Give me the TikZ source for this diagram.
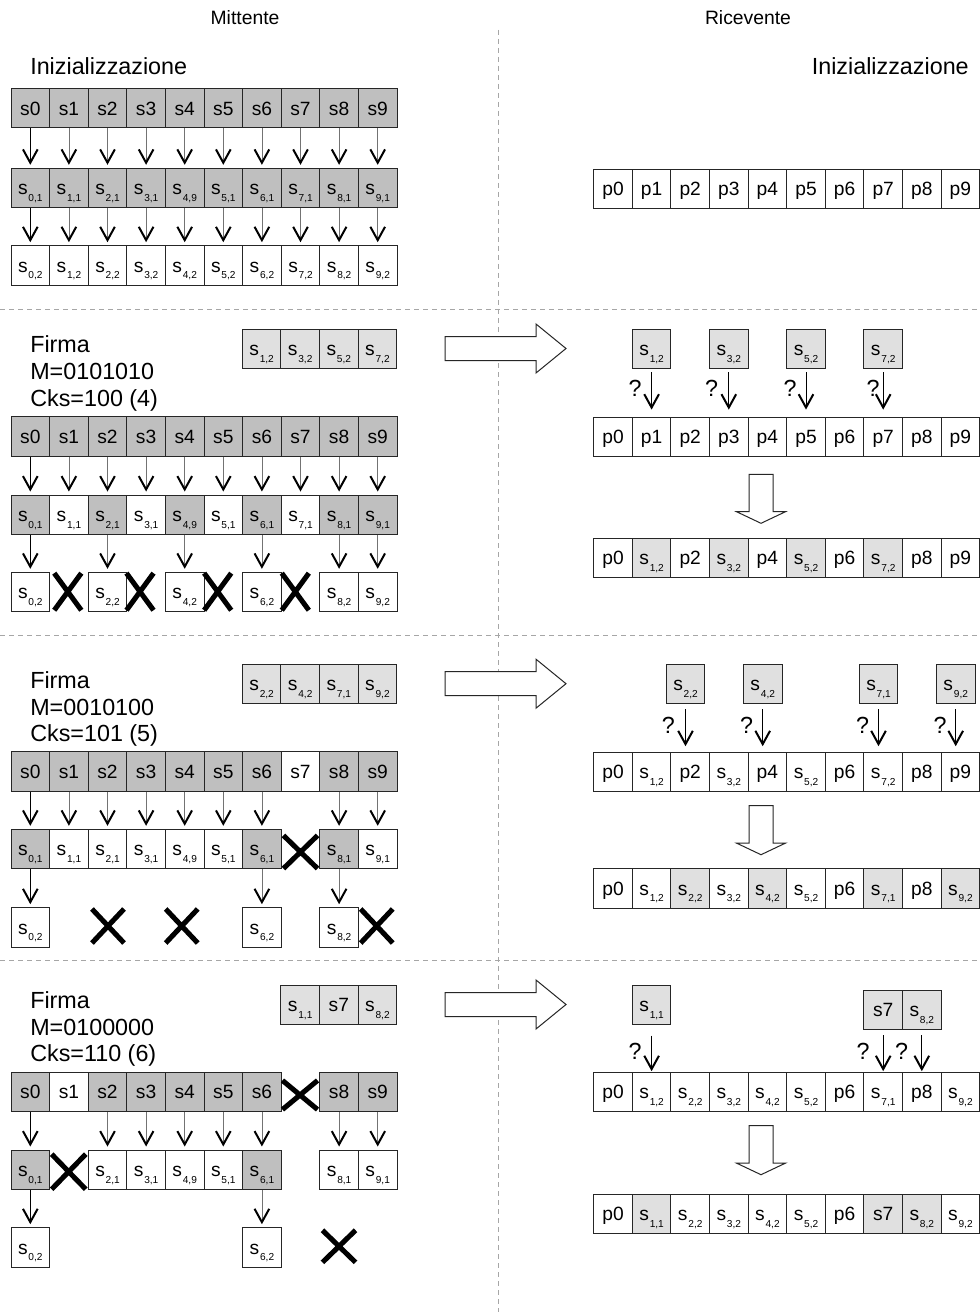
\documentclass[tikz,border=0pt]{standalone}
\usepackage{fontspec}
\setmainfont{Liberation Sans}
\usetikzlibrary{arrows.meta,shapes.misc}

% s with a lowered index pair, e.g. \sx{0}{1}
\newcommand{\sx}[2]{s\kern0.6pt\smash{\raisebox{-4.8pt}{\fontsize{7.6}{8}\selectfont #1,#2}}}

% one row of cells: name prefix, left x, top y, list col/label/fill
\newcommand{\cellrow}[4]{%
  \foreach \cc/\lab/\sty in {#4}{%
    \node[cell,\sty] (#1\cc) at ({#2+38.6*\cc+19.3},{#3+19.75}) {\lab};
  }%
}
% downward links between two rows for the listed columns
\newcommand{\links}[3]{%
  \foreach \cc in {#3}{\draw[conn] (#1\cc.south) -- (#2\cc.north);}%
}

\tikzset{
  cell/.style={draw=black!85, line width=0.75pt, minimum width=28.95pt,
    minimum height=29.6pt, inner sep=0pt, text height=10.3pt, text depth=0pt,
    font=\fontsize{14.4}{15}\selectfont},
  dk/.style={fill=black!25},
  lt/.style={fill=black!12},
  wt/.style={fill=white},
  barb/.tip={Straight Barb[length=10pt,width=11pt,line width=1.5pt,color=black]},
  conn/.style={draw=black!55, line width=0.5pt, -barb, shorten >=2.25pt},
  conn0/.style={conn, draw=black},
  qarr/.style={draw=black, line width=0.6pt, -barb},
  qmark/.style={font=\fontsize{17.5}{18}\selectfont, inner sep=0pt},
  big/.style={font=\fontsize{17.5}{20}\selectfont, inner sep=0pt},
  head/.style={font=\fontsize{14.5}{16}\selectfont, inner sep=0pt},
  xmark/.style 2 args={cross out, draw=black, line width=3.8pt, inner sep=0pt,
    minimum width=#1*0.75pt, minimum height=#2*0.75pt},
  sep/.style={draw=black!35, line width=0.75pt, dash pattern=on 3.75pt off 3pt},
  hollow/.style={draw=black!85, line width=0.75pt, fill=white},
  toright/.pic={\draw[hollow] (0,-12) -- (91,-12) -- (91,-24.5) -- (121,0)
    -- (91,24.5) -- (91,12) -- (0,12) -- cycle;},
  todown/.pic={\draw[hollow] (-12,0) -- (-12,37.4) -- (-24.5,37.4) -- (0,49)
    -- (24.5,37.4) -- (12,37.4) -- (12,0) -- cycle;}
}

\begin{document}
\begin{tikzpicture}[x=0.75pt,y=-0.75pt]
\useasboundingbox (0,0) rectangle (979,1312);
\fill[white] (0,0) rectangle (979,1312);

% separators between sender / receiver and between the phases
\draw[sep] (498.3,30) -- (498.3,1312);
\draw[sep] (0,310) -- (979,310);
\draw[sep] (0,635) -- (979,635);
\draw[sep] (0,960) -- (979,960);

\node[head, anchor=base] (mitt) at (245,24.5) {Mittente};
\node[head, anchor=base] (ric) at (748,24.5) {Ricevente};

% ---------------- phase 1: initialisation ----------------
\node[big, anchor=base west] (init1) at (30,75) {Inizializzazione};
\node[big, anchor=base east] (init2) at (969,75) {Inizializzazione};

\cellrow{L1a}{11}{88.5}{0/s0/dk,1/s1/dk,2/s2/dk,3/s3/dk,4/s4/dk,5/s5/dk,6/s6/dk,7/s7/dk,8/s8/dk,9/s9/dk}
\cellrow{L1b}{11}{168.3}{0/\sx{0}{1}/dk,1/\sx{1}{1}/dk,2/\sx{2}{1}/dk,3/\sx{3}{1}/dk,4/\sx{4}{9}/dk,5/\sx{5}{1}/dk,6/\sx{6}{1}/dk,7/\sx{7}{1}/dk,8/\sx{8}{1}/dk,9/\sx{9}{1}/dk}
\cellrow{L1c}{11}{245.7}{0/\sx{0}{2}/wt,1/\sx{1}{2}/wt,2/\sx{2}{2}/wt,3/\sx{3}{2}/wt,4/\sx{4}{2}/wt,5/\sx{5}{2}/wt,6/\sx{6}{2}/wt,7/\sx{7}{2}/wt,8/\sx{8}{2}/wt,9/\sx{9}{2}/wt}
\draw[conn0] (L1a0.south) -- (L1b0.north);
\draw[conn0] (L1b0.south) -- (L1c0.north);
\links{L1a}{L1b}{1,...,9}
\links{L1b}{L1c}{1,...,9}

\cellrow{R1p}{593.7}{169}{0/p0/wt,1/p1/wt,2/p2/wt,3/p3/wt,4/p4/wt,5/p5/wt,6/p6/wt,7/p7/wt,8/p8/wt,9/p9/wt}

% ---------------- phase 2 ----------------
\node[big, anchor=base west] (f2) at (30,352.3) {Firma};
\node[big, anchor=base west] (m2) at (30,379.3) {M=0101010};
\node[big, anchor=base west] (k2) at (30,406.3) {Cks=100 (4)};
\cellrow{G2}{242.3}{329.3}{0/\sx{1}{2}/lt,1/\sx{3}{2}/lt,2/\sx{5}{2}/lt,3/\sx{7}{2}/lt}

\cellrow{L2a}{11}{416.7}{0/s0/dk,1/s1/dk,2/s2/dk,3/s3/dk,4/s4/dk,5/s5/dk,6/s6/dk,7/s7/dk,8/s8/dk,9/s9/dk}
\cellrow{L2b}{11}{495}{0/\sx{0}{1}/dk,1/\sx{1}{1}/wt,2/\sx{2}{1}/dk,3/\sx{3}{1}/wt,4/\sx{4}{9}/dk,5/\sx{5}{1}/wt,6/\sx{6}{1}/dk,7/\sx{7}{1}/wt,8/\sx{8}{1}/dk,9/\sx{9}{1}/dk}
\cellrow{L2c}{11}{572.3}{0/\sx{0}{2}/wt,2/\sx{2}{2}/wt,4/\sx{4}{2}/wt,6/\sx{6}{2}/wt,8/\sx{8}{2}/wt,9/\sx{9}{2}/wt}
\node[xmark={22}{32}] (x2a) at (67.8,591.7) {};
\node[xmark={22}{32}] (x2b) at (140,591.7) {};
\node[xmark={22}{32}] (x2c) at (217.7,591.7) {};
\node[xmark={22}{32}] (x2d) at (295.3,591.7) {};
\draw[conn0] (L2a0.south) -- (L2b0.north);
\draw[conn0] (L2b0.south) -- (L2c0.north);
\links{L2a}{L2b}{1,...,9}
\links{L2b}{L2c}{2,4,6,8,9}

\pic at (445,348.5) {toright};
\cellrow{R2u}{593.7}{329.3}{1/\sx{1}{2}/lt,3/\sx{3}{2}/lt,5/\sx{5}{2}/lt,7/\sx{7}{2}/lt}
\cellrow{R2p}{593.7}{417.3}{0/p0/wt,1/p1/wt,2/p2/wt,3/p3/wt,4/p4/wt,5/p5/wt,6/p6/wt,7/p7/wt,8/p8/wt,9/p9/wt}
\foreach \cc in {1,3,5,7}{
  \draw[qarr, shorten <=2.2pt, shorten >=5.4pt] (R2u\cc.south) -- (R2p\cc.north);
}
\node[qmark] (q2a) at (635,388.3) {?};
\node[qmark] (q2b) at (711.7,388.3) {?};
\node[qmark] (q2c) at (790,388.3) {?};
\node[qmark] (q2d) at (873,388.3) {?};
\pic at (761,474.3) {todown};
\cellrow{R2r}{593.7}{538.3}{0/p0/wt,1/\sx{1}{2}/lt,2/p2/wt,3/\sx{3}{2}/lt,4/p4/wt,5/\sx{5}{2}/lt,6/p6/wt,7/\sx{7}{2}/lt,8/p8/wt,9/p9/wt}

% ---------------- phase 3 ----------------
\node[big, anchor=base west] (f3) at (30,688.3) {Firma};
\node[big, anchor=base west] (m3) at (30,715) {M=0010100};
\node[big, anchor=base west] (k3) at (30,741.5) {Cks=101 (5)};
\cellrow{G3}{242.3}{664}{0/\sx{2}{2}/lt,1/\sx{4}{2}/lt,2/\sx{7}{1}/lt,3/\sx{9}{2}/lt}

\cellrow{L3a}{11}{751.7}{0/s0/dk,1/s1/dk,2/s2/dk,3/s3/dk,4/s4/dk,5/s5/dk,6/s6/dk,7/s7/wt,8/s8/dk,9/s9/dk}
\cellrow{L3b}{11}{829.3}{0/\sx{0}{1}/dk,1/\sx{1}{1}/wt,2/\sx{2}{1}/wt,3/\sx{3}{1}/wt,4/\sx{4}{9}/wt,5/\sx{5}{1}/wt,6/\sx{6}{1}/dk,8/\sx{8}{1}/dk,9/\sx{9}{1}/wt}
\cellrow{L3c}{11}{907.7}{0/\sx{0}{2}/wt,6/\sx{6}{2}/wt,8/\sx{8}{2}/wt}
\node[xmark={29}{28}] (x3a) at (300.5,852) {};
\node[xmark={27}{29}] (x3b) at (108,926) {};
\node[xmark={27}{29}] (x3c) at (181.7,926) {};
\node[xmark={27}{29}] (x3d) at (376.7,926) {};
\draw[conn0] (L3a0.south) -- (L3b0.north);
\draw[conn0] (L3b0.south) -- (L3c0.north);
\links{L3a}{L3b}{1,2,3,4,5,6,8,9}
\links{L3b}{L3c}{6,8}

\pic at (445,683.7) {toright};
\cellrow{R3u}{589}{664.3}{2/\sx{2}{2}/lt,4/\sx{4}{2}/lt,7/\sx{7}{1}/lt,9/\sx{9}{2}/lt}
\cellrow{R3p}{593.7}{752.3}{0/p0/wt,1/\sx{1}{2}/wt,2/p2/wt,3/\sx{3}{2}/wt,4/p4/wt,5/\sx{5}{2}/wt,6/p6/wt,7/\sx{7}{2}/wt,8/p8/wt,9/p9/wt}
\foreach \cc in {2,4,7,9}{
  \draw[qarr, shorten <=3.9pt, shorten >=4.2pt] (R3u\cc.south) -- (R3u\cc.south |- R3p\cc.north);
}
\node[qmark] (q3a) at (668.3,725) {?};
\node[qmark] (q3b) at (746.7,725) {?};
\node[qmark] (q3c) at (862.7,725) {?};
\node[qmark] (q3d) at (940,725) {?};
\pic at (761,805.7) {todown};
\cellrow{R3r}{593.7}{868.7}{0/p0/wt,1/\sx{1}{2}/wt,2/\sx{2}{2}/lt,3/\sx{3}{2}/wt,4/\sx{4}{2}/lt,5/\sx{5}{2}/wt,6/p6/wt,7/\sx{7}{1}/lt,8/p8/wt,9/\sx{9}{2}/lt}

% ---------------- phase 4 ----------------
\node[big, anchor=base west] (f4) at (30,1008.3) {Firma};
\node[big, anchor=base west] (m4) at (30,1035.3) {M=0100000};
\node[big, anchor=base west] (k4) at (30,1061.5) {Cks=110 (6)};
\cellrow{G4}{280.9}{985}{0/\sx{1}{1}/lt,1/s7/lt,2/\sx{8}{2}/lt}

\cellrow{L4a}{11}{1072.3}{0/s0/dk,1/s1/wt,2/s2/dk,3/s3/dk,4/s4/dk,5/s5/dk,6/s6/dk,8/s8/dk,9/s9/dk}
\cellrow{L4b}{11}{1150}{0/\sx{0}{1}/dk,2/\sx{2}{1}/wt,3/\sx{3}{1}/wt,4/\sx{4}{9}/wt,5/\sx{5}{1}/wt,6/\sx{6}{1}/dk,8/\sx{8}{1}/wt,9/\sx{9}{1}/wt}
\cellrow{L4c}{11}{1227.7}{0/\sx{0}{2}/wt,6/\sx{6}{2}/wt}
\node[xmark={30}{24}] (x4a) at (300,1095) {};
\node[xmark={29}{30}] (x4b) at (68.7,1171.7) {};
\node[xmark={28}{27}] (x4c) at (339,1246.3) {};
\draw[conn0] (L4a0.south) -- (L4b0.north);
\draw[conn0] (L4b0.south) -- (L4c0.north);
\links{L4a}{L4b}{2,3,4,5,6,8,9}
\links{L4b}{L4c}{6}

\pic at (445,1004.5) {toright};
\cellrow{R4u}{593.7}{985}{1/\sx{1}{1}/lt}
\cellrow{R4v}{593.7}{990}{7/s7/lt,8/\sx{8}{2}/lt}
\cellrow{R4p}{593.7}{1072.3}{0/p0/wt,1/\sx{1}{2}/wt,2/\sx{2}{2}/wt,3/\sx{3}{2}/wt,4/\sx{4}{2}/wt,5/\sx{5}{2}/wt,6/p6/wt,7/\sx{7}{1}/wt,8/p8/wt,9/\sx{9}{2}/wt}
\draw[qarr, shorten <=7.9pt, shorten >=0.5pt] (R4u1.south) -- (R4p1.north);
\draw[qarr, shorten <=4.1pt, shorten >=0.5pt] (R4v7.south) -- (R4p7.north);
\draw[qarr, shorten <=4.1pt, shorten >=0.5pt] (R4v8.south) -- (R4p8.north);
\node[qmark] (q4a) at (635,1051.7) {?};
\node[qmark] (q4b) at (863,1051.7) {?};
\node[qmark] (q4c) at (901.7,1051.7) {?};
\pic at (761,1125.7) {todown};
\cellrow{R4r}{593.7}{1194}{0/p0/wt,1/\sx{1}{1}/lt,2/\sx{2}{2}/wt,3/\sx{3}{2}/wt,4/\sx{4}{2}/wt,5/\sx{5}{2}/wt,6/p6/wt,7/s7/lt,8/\sx{8}{2}/lt,9/\sx{9}{2}/wt}

\end{tikzpicture}
\end{document}
